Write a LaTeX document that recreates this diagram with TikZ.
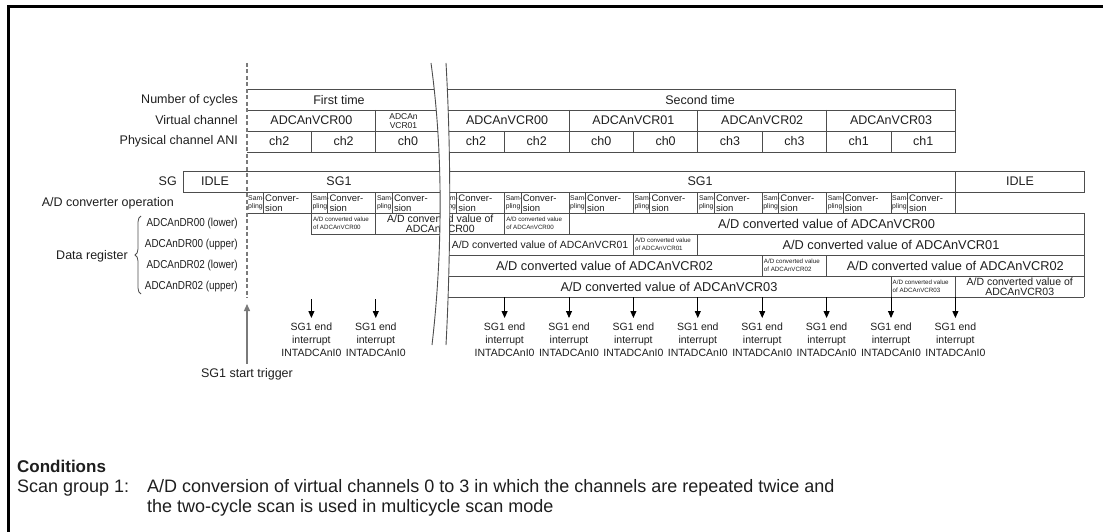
\documentclass[tikz,border=0pt]{standalone}
\usepackage{fontspec}
\usepackage{graphicx}
\setmainfont{Liberation Sans}
\usetikzlibrary{arrows.meta,decorations.pathreplacing}
\definecolor{ln}{HTML}{4D4D4D}
\definecolor{tx}{HTML}{1E1E1E}
\definecolor{trg}{HTML}{7A7A7A}
\newcommand{\narrowtxt}[1]{\scalebox{0.86}[1]{#1}}
\begin{document}
\begin{tikzpicture}[x=1pt,y=-1pt,
  grid/.style={draw=ln, line width=0.9pt},
  lab/.style={text=tx, inner sep=0pt, font=\fontsize{12.5}{15}\selectfont},
  reglab/.style={text=tx, inner sep=0pt, anchor=east, font=\fontsize{11.5}{14}\selectfont},
  small/.style={text=tx, inner sep=0pt, align=center, font=\fontsize{10.5}{10}\selectfont},
  big/.style={text=tx, inner sep=0pt, font=\fontsize{12.8}{15}\selectfont},
  tiny/.style={text=tx, inner sep=0pt, align=left, anchor=west, font=\fontsize{6.2}{8}\selectfont},
  samp/.style={text=tx, inner sep=0pt, align=left, anchor=west, font=\fontsize{6.9}{8.3}\selectfont},
  conv/.style={text=tx, inner sep=0pt, align=left, anchor=west, font=\fontsize{9.5}{10}\selectfont},
  intlab/.style={text=tx, inner xsep=0pt, inner ysep=5pt, anchor=north, align=center, font=\fontsize{10.5}{12.7}\selectfont},
  arr/.style={draw=black, line width=0.9pt, -{Triangle[length=7pt,width=6pt]}},
  trigarr/.style={draw=trg, line width=1.3pt, -{Triangle[length=7pt,width=6pt]}},
  cond/.style={text=tx, inner sep=0pt, anchor=west, font=\fontsize{18}{20}\selectfont}
]
\useasboundingbox (0,0) rectangle (1103,532);
% outer frame
\draw[line width=3pt, black] (8,532) -- (8,7) -- (1103,7);

% ---------- top table ----------
\draw[grid] (247,89) -- (955.4,89) -- (955.4,152) -- (247,152);
\draw[grid] (247,110) -- (955.4,110);
\draw[grid] (247,131) -- (955.4,131);
\foreach \x in {375.8,569,697.8,826.6} \draw[grid] (\x,110) -- (\x,131);
\foreach \x in {311.4,375.8,440.2,504.6,569,633.4,697.8,762.2,826.6,891} \draw[grid] (\x,131) -- (\x,152);

\node[lab, anchor=east] (lcyc) at (238,100) {Number of cycles};
\node[lab, anchor=east] (lvc) at (238,120.5) {Virtual channel};
\node[lab, anchor=east] (lpc) at (238,141.5) {Physical channel ANI};

\node[lab] (first) at (339,100) {First time};
\node[lab] (second) at (700,100) {Second time};
\node[lab] (v0a) at (311.4,120.5) {ADCAnVCR00};
\node[small, font=\fontsize{8.5}{9.3}\selectfont] (v1a) at (403.5,121) {ADCAn\\VCR01};
\node[lab] (v0b) at (507,120.5) {ADCAnVCR00};
\node[lab] (v1b) at (633.4,120.5) {ADCAnVCR01};
\node[lab] (v2b) at (762.2,120.5) {ADCAnVCR02};
\node[lab] (v3b) at (891,120.5) {ADCAnVCR03};
\foreach \n/\x/\t in {0/279.2/ch2,1/343.6/ch2,2/408/ch0,3/476/ch2,4/536.8/ch2,5/601.2/ch0,6/665.6/ch0,7/730/ch3,8/794.4/ch3,9/858.8/ch1,10/923.2/ch1}
  \node[lab] (ch\n) at (\x,141.5) {\t};

% ---------- SG row ----------
\draw[grid] (183,171) rectangle (1084,192);
\draw[grid] (955.4,171) -- (955.4,192);
\node[lab, anchor=east] (lsg) at (177,181.5) {SG};
\node[lab] (idle1) at (215,181.5) {IDLE};
\node[lab] (sg1a) at (339,181.5) {SG1};
\node[lab] (sg1b) at (700,181.5) {SG1};
\node[lab] (idle2) at (1020,181.5) {IDLE};

% ---------- A/D converter operation ----------
\node[lab, anchor=east] (lop) at (174,203.5) {A/D converter operation};
\draw[grid] (247,213) -- (955.4,213) -- (955.4,192);
\foreach \i/\x in {0/247,1/311.4,2/375.8,3/440.2,4/504.6,5/569,6/633.4,7/697.8,8/762.2,9/826.6,10/891} {
  \ifnum\i>0 \draw[grid] (\x,192) -- (\x,213); \fi
  \draw[grid] (\x+16.5,192) -- (\x+16.5,213);
  \node[samp] (s\i) at (\x+1,202.5) {Sam-\\pling};
  \node[conv] (c\i) at (\x+18,203) {Conver-\\sion};
}

% ---------- data registers ----------
\node[reglab] (r0) at (238,223.5) {\narrowtxt{ADCAnDR00 (lower)}};
\node[reglab] (r1) at (238,244.5) {\narrowtxt{ADCAnDR00 (upper)}};
\node[reglab] (r2) at (238,265.5) {\narrowtxt{ADCAnDR02 (lower)}};
\node[reglab] (r3) at (238,286.5) {\narrowtxt{ADCAnDR02 (upper)}};
\node[lab, anchor=east] (dreg) at (128,256) {Data register};
\draw[draw=ln, line width=0.8pt, decorate, decoration={brace, amplitude=6pt}] (141,294) -- (141,216);

\draw[grid] (311.4,213) -- (1084,213);
\draw[grid] (311.4,234) -- (1084,234);
\draw[grid] (440.2,255) -- (1084,255);
\draw[grid] (440.2,276) -- (1084,276);
\draw[grid] (440.2,297) -- (1084,297);
\draw[grid] (1084,213) -- (1084,297);
\foreach \x in {311.4,375.8,504.6,569} \draw[grid] (\x,213) -- (\x,234);
\foreach \x in {633.4,697.8} \draw[grid] (\x,234) -- (\x,255);
\foreach \x in {762.2,826.6} \draw[grid] (\x,255) -- (\x,276);
\foreach \x in {891,955.4} \draw[grid] (\x,276) -- (\x,297);

% DR00 lower
\node[tiny] (d0a) at (312.9,223.5) {A/D converted value\\of ADCAnVCR00};
\node[small] (d0b) at (440.2,224) {A/D converted value of\\ADCAnVCR00};
\node[tiny] (d0c) at (506.1,223.5) {A/D converted value\\of ADCAnVCR00};
\node[big] (d0d) at (826.5,223.5) {A/D converted value of ADCAnVCR00};
% DR00 upper
\node[big, font=\fontsize{10.4}{12}\selectfont] (d1a) at (540,244.5) {A/D converted value of ADCAnVCR01};
\node[tiny] (d1b) at (634.9,244.5) {A/D converted value\\of ADCAnVCR01};
\node[big] (d1c) at (891,244.5) {A/D converted value of ADCAnVCR01};
% DR02 lower
\node[big] (d2a) at (604.6,265.5) {A/D converted value of ADCAnVCR02};
\node[tiny] (d2b) at (763.7,265.5) {A/D converted value\\of ADCAnVCR02};
\node[big] (d2c) at (955.3,265.5) {A/D converted value of ADCAnVCR02};
% DR02 upper
\node[big] (d3a) at (669,286.5) {A/D converted value of ADCAnVCR03};
\node[tiny] (d3b) at (892.5,286.5) {A/D converted value\\of ADCAnVCR03};
\node[small] (d3c) at (1019.7,286.5) {A/D converted value of\\ADCAnVCR03};

% ---------- break band ----------
\fill[white] (431,63) .. controls (443,150) and (443,250) .. (432,345) -- (446,345) .. controls (451,250) and (451,150) .. (446,63) -- cycle;
\draw[ln, line width=0.9pt] (431,63) .. controls (443,150) and (443,250) .. (432,345);
\draw[ln, line width=0.9pt] (446,63) .. controls (451,150) and (451,250) .. (446,345);

% ---------- start trigger ----------
\draw[draw=trg, line width=1.1pt, dash pattern=on 4pt off 2.5pt] (247,63) -- (247,298);
\coordinate (tt) at (247,304);
\node[lab] (trig) at (247,374) {SG1 start trigger};
\draw[trigarr, shorten <=4pt] (trig.north) -- (tt);

% ---------- end interrupts ----------
\foreach \i/\x/\y in {1/311.4/299,2/375.8/299,4/504.6/297,5/569/297,6/633.4/297,7/697.8/297,8/762.2/297,9/826.6/297,10/891/297,11/955.4/297} {
  \coordinate (t\i) at (\x,\y);
  \node[intlab] (e\i) at (\x,318) {SG1 end\\interrupt\\INTADCAnI0};
  \draw[arr] (t\i) -- (e\i.north);
}

% ---------- conditions ----------
\node[cond, font=\bfseries\fontsize{17}{20}\selectfont] (cnd) at (17,466) {Conditions};
\node[cond] (cnd1a) at (17,488) {Scan group 1:};
\node[cond] (cnd1b) at (147,488) {A/D conversion of virtual channels 0 to 3 in which the channels are repeated twice and};
\node[cond] (cnd2) at (147,508) {the two-cycle scan is used in multicycle scan mode};
\end{tikzpicture}
\end{document}
